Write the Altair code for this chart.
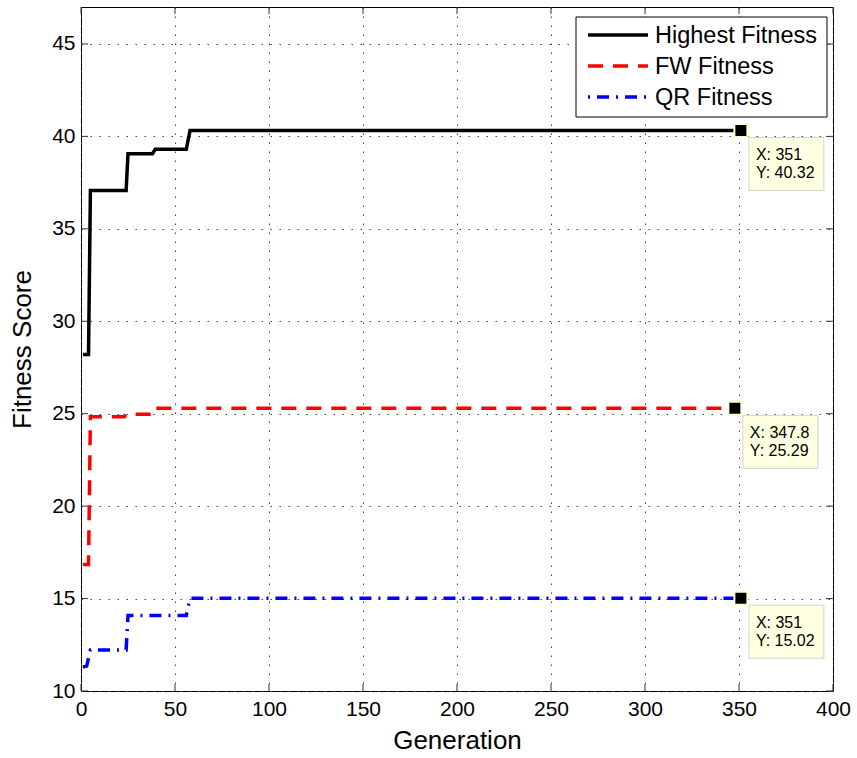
import altair as alt
import pandas as pd

# ---------------- data ----------------
series_names = ["Highest Fitness", "FW Fitness", "QR Fitness"]
series_colors = ["#000000", "#ff0000", "#0000ff"]

high_gen = [1, 4, 5, 24, 25, 38, 39.5, 56, 58, 351]
high_fit = [28.2, 28.2, 37.07, 37.07, 39.06, 39.06, 39.3, 39.3, 40.32, 40.32]

fw_gen = [1, 4, 5, 23, 24, 38, 39, 347.8]
fw_fit = [16.84, 16.84, 24.84, 24.84, 24.97, 24.97, 25.29, 25.29]

qr_gen = [1, 3, 5, 24, 25, 56, 58, 351]
qr_fit = [11.3, 11.35, 12.22, 12.22, 14.08, 14.08, 15.02, 15.02]

tip_x = [351, 347.8, 351]
tip_y = [40.32, 25.29, 15.02]

x_ticks = [0, 50, 100, 150, 200, 250, 300, 350, 400]
y_ticks = [10, 15, 20, 25, 30, 35, 40, 45]

# ---------------- layout / style ----------------
W, H = 752, 684
FONT = "Liberation Sans"
TICK = 7

xscale = alt.Scale(domain=[0, 400], nice=False, zero=False)
yscale = alt.Scale(domain=[10, 47], nice=False, zero=False)

xaxis = alt.Axis(values=x_ticks, title="Generation", grid=True, gridDash=[1.5, 7.5],
                 gridColor="#444444", gridWidth=1, tickSize=0, domain=False,
                 labelFontSize=21, labelFont=FONT, labelColor="black", labelPadding=7,
                 labelFlush=False, labelOverlap=False,
                 titleFontSize=26, titleFont=FONT, titleFontWeight="normal",
                 titleColor="black", titlePadding=8)
yaxis = alt.Axis(values=y_ticks, title="Fitness Score", grid=True, gridDash=[1.5, 7.5],
                 gridColor="#444444", gridWidth=1, tickSize=0, domain=False,
                 labelFontSize=21, labelFont=FONT, labelColor="black", labelPadding=6,
                 labelFlush=False, labelOverlap=False,
                 titleFontSize=26, titleFont=FONT, titleFontWeight="normal",
                 titleColor="black", titlePadding=16)

x_enc = alt.X("gen:Q", scale=xscale, axis=xaxis)
y_enc = alt.Y("fit:Q", scale=yscale, axis=yaxis)

high_df = pd.DataFrame({"gen": high_gen, "fit": high_fit})
fw_df = pd.DataFrame({"gen": fw_gen, "fit": fw_fit})
qr_df = pd.DataFrame({"gen": qr_gen, "fit": qr_fit})

high_line = alt.Chart(high_df).mark_line(color=series_colors[0], strokeWidth=3.5,
                                         strokeCap="butt", strokeJoin="miter").encode(x=x_enc, y=y_enc)
fw_line = alt.Chart(fw_df).mark_line(color=series_colors[1], strokeWidth=3.5, strokeDash=[15, 10],
                                     strokeCap="butt", strokeJoin="miter").encode(x=x_enc, y=y_enc)
qr_line = alt.Chart(qr_df).mark_line(color=series_colors[2], strokeWidth=3.5, strokeDash=[12, 7, 2, 7],
                                     strokeCap="butt", strokeJoin="miter").encode(x=x_enc, y=y_enc)

# inward ticks (MATLAB style)
xt_df = pd.DataFrame({"gen": x_ticks})
yt_df = pd.DataFrame({"fit": y_ticks})
tick_color = "#333333"
xt_bottom = alt.Chart(xt_df).mark_rule(color=tick_color).encode(x=x_enc, y=alt.value(H), y2=alt.value(H - TICK))
xt_top = alt.Chart(xt_df).mark_rule(color=tick_color).encode(x=x_enc, y=alt.value(0), y2=alt.value(TICK))
yt_left = alt.Chart(yt_df).mark_rule(color=tick_color).encode(y=y_enc, x=alt.value(0), x2=alt.value(TICK))
yt_right = alt.Chart(yt_df).mark_rule(color=tick_color).encode(y=y_enc, x=alt.value(W), x2=alt.value(W - TICK))

# data tips
tip_df = pd.DataFrame({
    "gen": tip_x,
    "fit": tip_y,
    "xl": [f"X: {v:g}" for v in tip_x],
    "yl": [f"Y: {v:.2f}" for v in tip_y],
})
tip_box = alt.Chart(tip_df).mark_rect(fill="#ffffe1", stroke="#d4d4c4", strokeWidth=1,
                                      xOffset=8, x2Offset=83, yOffset=7, y2Offset=60).encode(
    x=x_enc, x2="gen:Q", y=y_enc, y2="fit:Q")
tip_marker = alt.Chart(tip_df).mark_square(size=169, color="black", opacity=1, stroke="#ffffcc",
                                           strokeWidth=2).encode(x=x_enc, y=y_enc)
tip_text_x = alt.Chart(tip_df).mark_text(align="left", baseline="middle", dx=15, dy=24.5,
                                         fontSize=16, font=FONT, color="black").encode(
    x=x_enc, y=y_enc, text="xl:N")
tip_text_y = alt.Chart(tip_df).mark_text(align="left", baseline="middle", dx=15, dy=43,
                                         fontSize=16, font=FONT, color="black").encode(
    x=x_enc, y=y_enc, text="yl:N")

# legend (drawn manually)
leg_box_df = pd.DataFrame({"k": [0]})
leg_box = alt.Chart(leg_box_df).mark_rect(fill="white", stroke="black", strokeWidth=1).encode(
    x=alt.value(495), x2=alt.value(746), y=alt.value(10), y2=alt.value(110))
leg_dashes = [None, [15, 10], [2, 7, 12, 7]]
leg_layers = []
for i, name in enumerate(series_names):
    ydy = 28 + 31 * i
    d = pd.DataFrame({"name": [name]})
    kw = dict(color=series_colors[i], strokeWidth=3.5, strokeCap="butt")
    if leg_dashes[i] is not None:
        kw["strokeDash"] = leg_dashes[i]
    leg_layers.append(alt.Chart(d).mark_rule(**kw).encode(
        x=alt.value(507), x2=alt.value(567), y=alt.value(ydy)))
    leg_layers.append(alt.Chart(d).mark_text(align="left", baseline="middle", fontSize=23.5,
                                             font=FONT, color="black").encode(
        x=alt.value(574), y=alt.value(ydy + 1), text="name:N"))

chart = alt.layer(
    xt_bottom, xt_top, yt_left, yt_right,
    high_line, fw_line, qr_line,
    tip_box, tip_marker, tip_text_x, tip_text_y,
    leg_box, *leg_layers,
).properties(
    width=W, height=H,
    autosize=alt.AutoSizeParams(type="none"),
    padding={"left": 81, "top": 7, "right": 24, "bottom": 67},
    background="white",
).configure_view(stroke="black", strokeWidth=1)

chart.save("out.html", embed_options={"renderer": "svg", "actions": False})
